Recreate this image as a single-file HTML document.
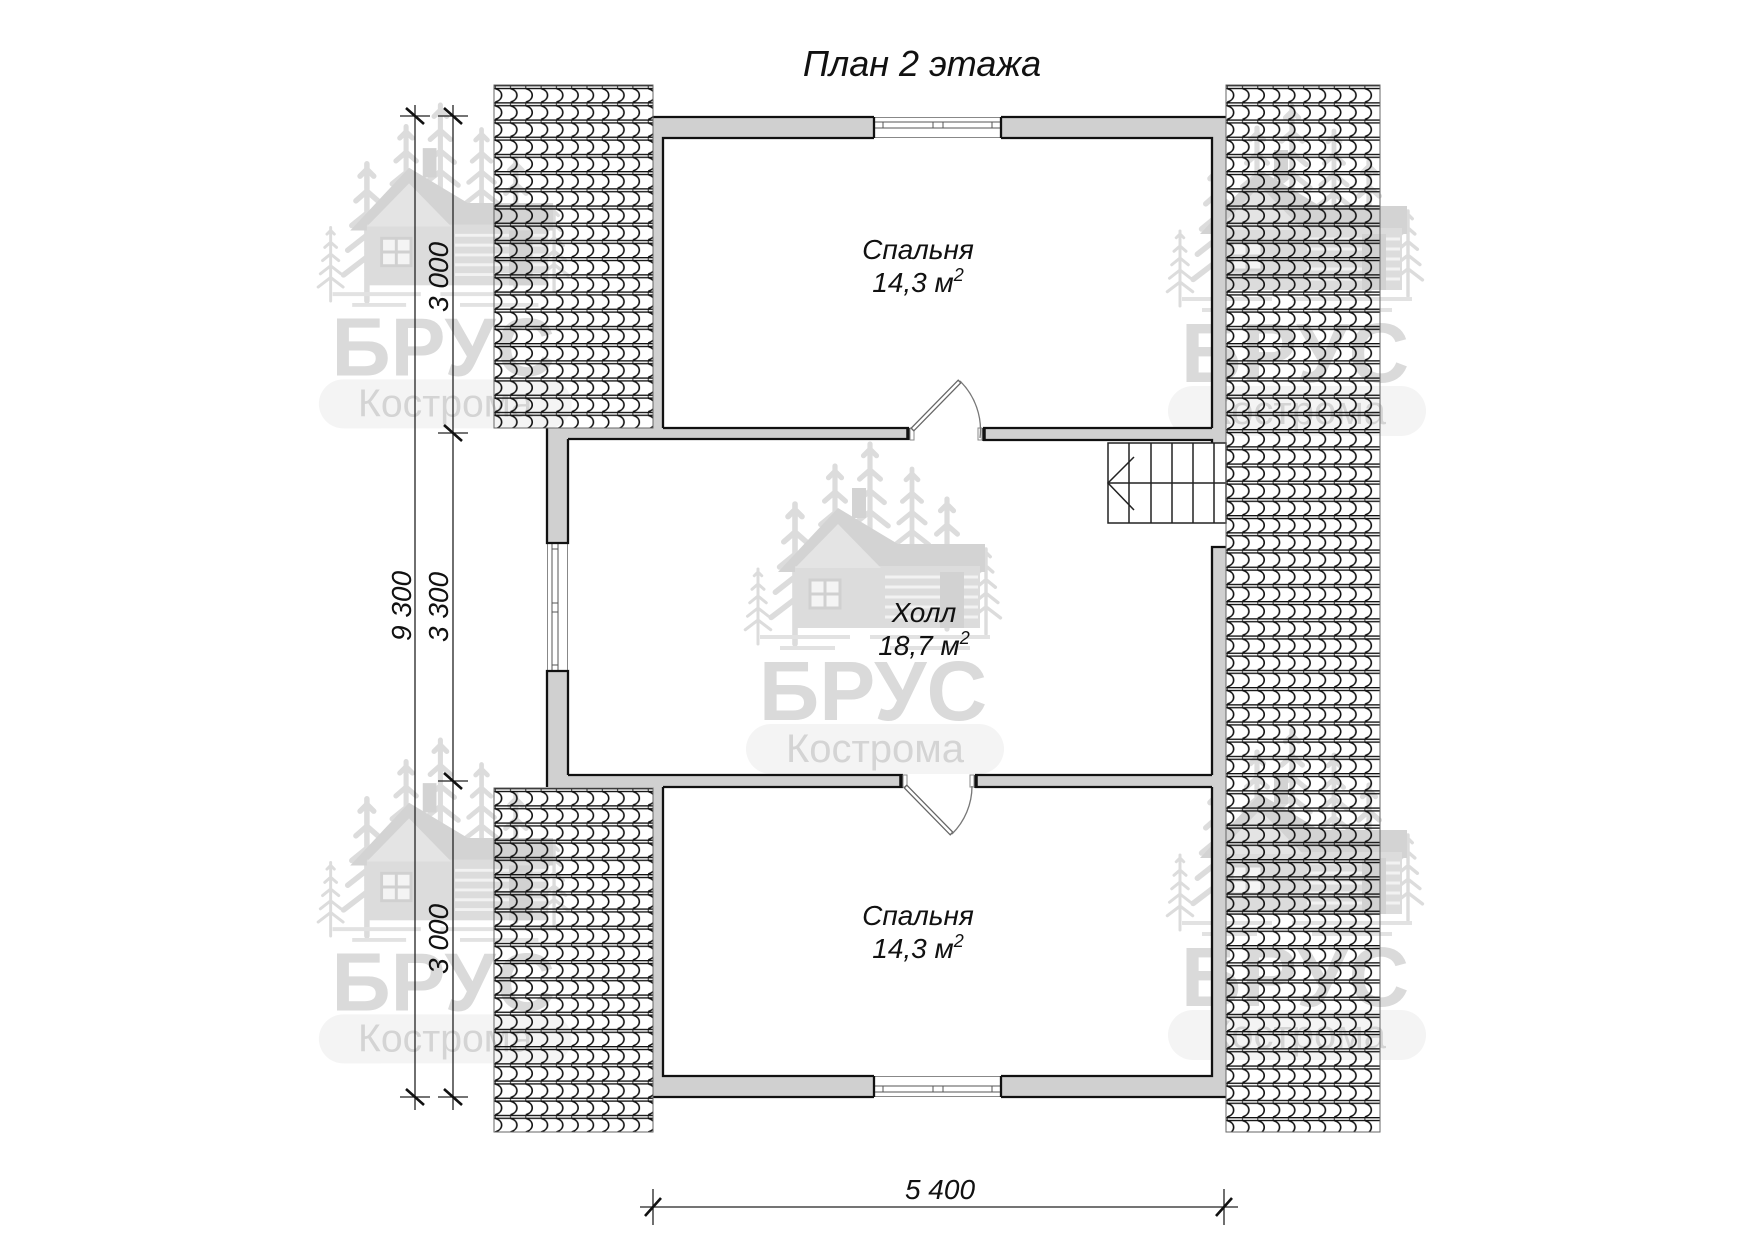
<!DOCTYPE html>
<html><head><meta charset="utf-8"><style>
html,body{margin:0;padding:0;background:#fff;}
svg{display:block;}
text{font-family:"Liberation Sans","DejaVu Sans",sans-serif;}
</style></head><body>
<svg width="1754" height="1240" viewBox="0 0 1754 1240" xmlns="http://www.w3.org/2000/svg">
<defs>
<pattern id="tile" x="0" y="0" width="15.3" height="17.2" patternUnits="userSpaceOnUse">
 <path d="M0,0.7 H15.3 M0,3.5 H15.3" stroke="#111" stroke-width="1.3" fill="none"/>
 <path d="M1.2,3.5 C9.8,6 9.8,14.5 1.2,17.2" stroke="#111" stroke-width="1.6" fill="none"/>
 <path d="M1.2,0 V3.5" stroke="#111" stroke-width="0.9"/>
</pattern>
<symbol id="tree" overflow="visible">
 <path d="M0,0 V100 M-5,9 L0,4 L5,9 M-8,27 L0,20 L8,27 M-11,45 L0,36 L11,45 M-14,63 L0,52 L14,63 M-17,81 L0,68 L17,81" stroke="#dcdcdc" stroke-width="4" fill="none" stroke-linecap="round" stroke-linejoin="round"/>
</symbol>
<symbol id="art" overflow="visible">
 <use href="#tree" transform="translate(18,125) scale(0.75)"/>
 <use href="#tree" transform="translate(55,60) scale(1.4)"/>
 <use href="#tree" transform="translate(95,22) scale(1.3)"/>
 <use href="#tree" transform="translate(130,0) scale(1.3)"/>
 <use href="#tree" transform="translate(172,25) scale(1.2)"/>
 <use href="#tree" transform="translate(207,55) scale(1.3)"/>
 <use href="#tree" transform="translate(246,105) scale(0.85)"/>
 <polygon points="38,128 98,64 158,100 245,100 245,128" fill="#d3d3d3"/>
 <rect x="112" y="44" width="14" height="30" fill="#d3d3d3"/>
 <rect x="55" y="122" width="185" height="62" fill="#dcdcdc"/>
 <polygon points="55,124 98,80 141,124" fill="#e4e4e4"/>
 <path d="M145,133 H238 M145,143 H238 M145,153 H238 M145,163 H238 M145,173 H238" stroke="#f2f2f2" stroke-width="3"/>
 <rect x="70" y="136" width="30" height="28" fill="#f4f4f4" stroke="#d0d0d0" stroke-width="3"/>
 <path d="M85,136 V164 M70,150 H100" stroke="#d0d0d0" stroke-width="3"/>
 <rect x="200" y="128" width="24" height="56" fill="#d2d2d2"/>
 <path d="M20,193 H110 M130,193 H250 M40,204 H95 M150,204 H230" stroke="#e2e2e2" stroke-width="4"/>
 <rect x="6" y="280" width="258" height="50" rx="25" fill="#f4f4f4"/>
</symbol>
</defs>

<!-- watermarks (underlay) -->
<g>
 <g transform="translate(740,444)"><use href="#art"/>
  <text x="133" y="276" font-size="84" font-weight="bold" text-anchor="middle" fill="#dadada">БРУС</text>
  <text x="135" y="318" font-size="40" text-anchor="middle" fill="#d4d4d4">Кострома</text></g>
 <g transform="translate(313,105) scale(0.98)"><use href="#art"/>
  <text x="133" y="276" font-size="84" font-weight="bold" text-anchor="middle" fill="#dadada">БРУС</text>
  <text x="135" y="318" font-size="40" text-anchor="middle" fill="#d4d4d4">Кострома</text></g>
 <g transform="translate(313,740) scale(0.98)"><use href="#art"/>
  <text x="133" y="276" font-size="84" font-weight="bold" text-anchor="middle" fill="#dadada">БРУС</text>
  <text x="135" y="318" font-size="40" text-anchor="middle" fill="#d4d4d4">Кострома</text></g>
 <g transform="translate(1162,106)"><use href="#art"/>
  <text x="133" y="276" font-size="84" font-weight="bold" text-anchor="middle" fill="#dadada">БРУС</text>
  <text x="135" y="318" font-size="40" text-anchor="middle" fill="#d4d4d4">Кострома</text></g>
 <g transform="translate(1162,730)"><use href="#art"/>
  <text x="133" y="276" font-size="84" font-weight="bold" text-anchor="middle" fill="#dadada">БРУС</text>
  <text x="135" y="318" font-size="40" text-anchor="middle" fill="#d4d4d4">Кострома</text></g>
</g>

<!-- wall fills -->
<g fill="#d0d0d0">
 <rect x="653" y="117" width="573" height="21"/>
 <rect x="653" y="117" width="10" height="311"/>
 <rect x="1212" y="117" width="14" height="326"/>
 <rect x="1212" y="547" width="14" height="550"/>
 <rect x="547" y="428" width="362" height="11"/>
 <rect x="983" y="428" width="229" height="12"/>
 <rect x="547" y="428" width="21" height="115"/>
 <rect x="547" y="671" width="21" height="116"/>
 <rect x="547" y="775" width="356" height="12"/>
 <rect x="975" y="775" width="237" height="12"/>
 <rect x="653" y="787" width="10" height="310"/>
 <rect x="653" y="1076" width="573" height="21"/>
</g>
<g fill="#fff">
 <rect x="874" y="116" width="127" height="23"/>
 <rect x="874" y="1075" width="127" height="23"/>
</g>

<!-- windows -->
<g stroke="#888" stroke-width="1" fill="none">
 <path d="M874,117.5 H1001 M874,137.5 H1001"/>
 <path d="M874,1076.5 H1001 M874,1096.5 H1001"/>
 <path d="M547.5,543 V671 M567.5,543 V671"/>
</g>
<g stroke="#555" stroke-width="1" fill="#fff">
 <rect x="874.5" y="122" width="126" height="6"/>
 <rect x="874.5" y="1086" width="126" height="6"/>
 <rect x="552" y="543.5" width="6" height="127"/>
</g>
<g stroke="#555" stroke-width="1">
 <path d="M883,122 V128 M933,122 V128 M943,122 V128 M992,122 V128"/>
 <path d="M883,1086 V1092 M933,1086 V1092 M943,1086 V1092 M992,1086 V1092"/>
 <path d="M552,549 H558 M552,603 H558 M552,612 H558 M552,665 H558"/>
</g>

<!-- wall outlines -->
<g stroke="#111" stroke-width="2.3" fill="none" stroke-linejoin="miter">
 <path d="M653,117 H874 M1001,117 H1226"/>
 <path d="M663,428 V138 H874 M1001,138 H1212 V428"/>
 <path d="M874,117 V138 M1001,117 V138"/>
 <path d="M663,428 H909 M983,428 H1212"/>
 <path d="M568,439 H909 M983,440 H1212 V443"/>
 <path d="M547,428 V543 H568 V439"/>
 <path d="M547,787 V671 H568 V775"/>
 <path d="M1212,775 V547 H1226"/>
 <path d="M568,775 H903 M975,775 H1212"/>
 <path d="M663,787 H903 M975,787 H1212"/>
 <path d="M663,787 V1076 H874 M1001,1076 H1212 V787"/>
 <path d="M653,1097 H874 M1001,1097 H1226"/>
 <path d="M874,1076 V1097 M1001,1076 V1097"/>
</g>
<g stroke="#111" stroke-width="3.5">
 <path d="M908,428 V440 M984,428 V441"/>
 <path d="M901,775 V788 M976,775 V788"/>
</g>

<!-- doors -->
<g stroke="#888" stroke-width="1" fill="#fff">
 <rect x="910" y="428" width="4" height="12"/>
 <rect x="978" y="428" width="4" height="12"/>
 <rect x="903" y="775" width="4" height="12"/>
 <rect x="970" y="775" width="4" height="12"/>
</g>
<line x1="912" y1="430" x2="960" y2="381" stroke="#666" stroke-width="5"/>
<line x1="913" y1="429" x2="959" y2="382" stroke="#fff" stroke-width="2.4"/>
<path d="M960,381 A68.6,68.6 0 0 1 980,438" stroke="#777" stroke-width="1.3" fill="none"/>
<line x1="905" y1="786" x2="952" y2="834" stroke="#666" stroke-width="5"/>
<line x1="906" y1="787" x2="951" y2="833" stroke="#fff" stroke-width="2.4"/>
<path d="M952,834 A67.5,67.5 0 0 0 972,786" stroke="#777" stroke-width="1.3" fill="none"/>

<!-- stair -->
<g stroke="#222" stroke-width="1.5" fill="none">
 <rect x="1108" y="443" width="118" height="80"/>
 <path d="M1129,443 V523 M1151,443 V523 M1172,443 V523 M1193,443 V523 M1214,443 V523 M1108,483 H1226"/>
 <path d="M1134,457 L1108,483 L1134,510"/>
</g>

<!-- roof tiles -->
<g transform="translate(494,85)"><rect width="159" height="343" fill="url(#tile)" stroke="#666" stroke-width="1"/></g>
<g transform="translate(494,788)"><rect width="159" height="344" fill="url(#tile)" stroke="#666" stroke-width="1"/></g>
<g transform="translate(1226,85)"><rect width="154" height="1047" fill="url(#tile)" stroke="#666" stroke-width="1"/></g>

<!-- dimension lines -->
<g stroke="#222" stroke-width="1.3" fill="none">
 <path d="M415,105 V1110 M453,105 V1110"/>
 <path d="M400,116 H430 M438,116 H468 M438,433 H468 M438,781 H468 M400,1097 H430 M438,1097 H468"/>
 <path d="M640,1207 H1238"/>
 <path d="M653,1189 V1225 M1224,1189 V1225"/>
</g>
<g stroke="#111" stroke-width="2.6">
 <path d="M406,108 L424,124 M444,108 L462,124 M444,425 L462,441 M444,773 L462,789 M406,1089 L424,1105 M444,1089 L462,1105"/>
 <path d="M645,1216 L661,1198 M1216,1216 L1232,1198"/>
</g>

<!-- texts -->
<g fill="#111" font-style="italic">
 <text x="922" y="76" font-size="36" text-anchor="middle">План 2 этажа</text>
 <text x="918" y="259" font-size="28" text-anchor="middle">Спальня</text>
 <text x="918" y="292" font-size="28" text-anchor="middle">14,3 м<tspan font-size="18" dy="-11">2</tspan></text>
 <text x="924" y="622" font-size="28" text-anchor="middle">Холл</text>
 <text x="924" y="655" font-size="28" text-anchor="middle">18,7 м<tspan font-size="18" dy="-11">2</tspan></text>
 <text x="918" y="925" font-size="28" text-anchor="middle">Спальня</text>
 <text x="918" y="958" font-size="28" text-anchor="middle">14,3 м<tspan font-size="18" dy="-11">2</tspan></text>
 <text x="940" y="1199" font-size="28" text-anchor="middle">5 400</text>
 <text transform="translate(411,606) rotate(-90)" font-size="28" text-anchor="middle">9 300</text>
 <text transform="translate(448,607) rotate(-90)" font-size="28" text-anchor="middle">3 300</text>
 <text transform="translate(448,277) rotate(-90)" font-size="28" text-anchor="middle">3 000</text>
 <text transform="translate(448,939) rotate(-90)" font-size="28" text-anchor="middle">3 000</text>
</g>
</svg>
</body></html>
